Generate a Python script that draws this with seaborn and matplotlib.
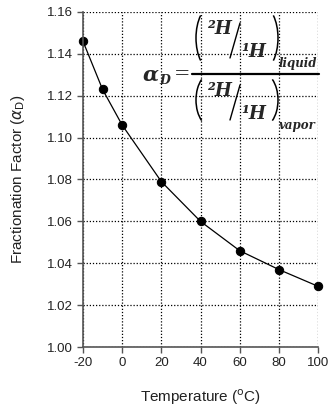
import numpy as np
import pandas as pd
import matplotlib
matplotlib.use("Agg")
import matplotlib.pyplot as plt
from matplotlib.lines import Line2D
from matplotlib.patches import Arc
import seaborn as sns

# Data
temperature = [-20, -10, 0, 20, 40, 60, 80, 100]
alpha_d = [1.146, 1.123, 1.106, 1.079, 1.060, 1.046, 1.037, 1.029]
x_ticks = [-20, 0, 20, 40, 60, 80, 100]
y_ticks = [1.00, 1.02, 1.04, 1.06, 1.08, 1.10, 1.12, 1.14, 1.16]

df = pd.DataFrame({"T": temperature, "alpha": alpha_d})

sns.set_style("ticks")
plt.rcParams["font.family"] = ["Liberation Sans", "DejaVu Sans"]
plt.rcParams["mathtext.fontset"] = "dejavusans"
plt.rcParams["axes.unicode_minus"] = False

W, H = 328, 409
fig = plt.figure(figsize=(W / 100, H / 100), dpi=100)
ax = fig.add_axes([83 / W, 1 - 347 / H, 235 / W, 335 / H])

sns.lineplot(data=df, x="T", y="alpha", color="black", linewidth=0.9, ax=ax,
             marker="o", markersize=6, markeredgecolor="black", clip_on=False)

ax.set_xlim(-20, 100)
ax.set_ylim(1.00, 1.16)
ax.set_xticks(x_ticks)
ax.set_yticks(y_ticks)
ax.set_yticklabels([f"{v:.2f}" for v in y_ticks])
ax.grid(True, color="black", linestyle=(0, (1, 1.5)), linewidth=0.9)
ax.tick_params(labelsize=9.5, length=4, width=1, color="#555555", direction="out",
               labelcolor="#222222")
for s in ["top", "right"]:
    ax.spines[s].set_visible(False)
for s in ["left", "bottom"]:
    ax.spines[s].set_color("#555555")
    ax.spines[s].set_linewidth(1.2)

ax.set_xlabel(r"Temperature ($^{\rm o}$C)", fontsize=11, labelpad=13, color="#222222")
ax.set_ylabel(r"Fractionation Factor ($\alpha_{\rm D}$)", fontsize=11, labelpad=14,
              color="#222222")


# equation, placed in pixel coordinates of the figure
def px(x, y):
    return x / W, 1 - y / H


serif = dict(family="DejaVu Serif", weight="bold", style="italic", zorder=6)
fig.text(*px(159, 75), "α", fontsize=15, ha="right", va="center", **serif)
fig.text(*px(159, 81), "D", fontsize=9, ha="left", va="center", **serif)
fig.text(*px(182, 74), "=", fontsize=14, ha="center", va="center",
         family="DejaVu Serif", zorder=6)
fig.add_artist(Line2D([192 / W, 319 / W], [1 - 74 / H, 1 - 74 / H],
                      color="black", linewidth=1.6, transform=fig.transFigure))

for yc, b, sub in [(38, 32, "liquid"), (100, 27, "vapor")]:
    # thin round brackets
    fig.add_artist(Arc(px(212, yc), 32 / W, 2 * b / H, theta1=122, theta2=238,
                       color="black", linewidth=1.1, transform=fig.transFigure))
    fig.add_artist(Arc(px(262, yc), 32 / W, 2 * b / H, theta1=-58, theta2=58,
                       color="black", linewidth=1.1, transform=fig.transFigure))
    fig.text(*px(220, yc - 9), "²H", fontsize=13, ha="center", va="center", **serif)
    fig.text(*px(254, yc + 14), "¹H", fontsize=13, ha="center", va="center", **serif)
    fig.add_artist(Line2D([230 / W, 240 / W], [1 - (yc + 20) / H, 1 - (yc - 15) / H],
                          color="black", linewidth=1.0, transform=fig.transFigure))
    fig.text(*px(279, yc + 25), sub, fontsize=8.5, ha="left", va="center", **serif)

fig.savefig("out.png", dpi=100)
